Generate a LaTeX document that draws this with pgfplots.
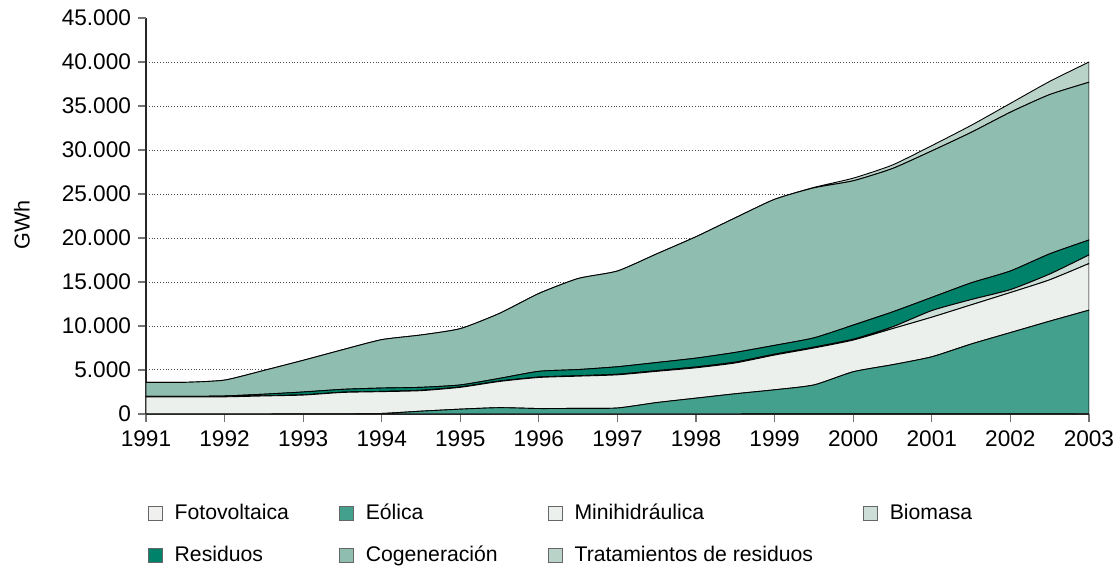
\documentclass[border=0pt]{standalone}
\usepackage{fontspec}
\setmainfont{Liberation Sans}
\usepackage{pgfplots}
\pgfplotsset{compat=1.18}
\usepackage{pgfplotstable}

\definecolor{cF}{HTML}{F0F1EF}
\definecolor{cE}{HTML}{42A08C}
\definecolor{cM}{HTML}{EBF0EC}
\definecolor{cB}{HTML}{CCDED7}
\definecolor{cR}{HTML}{00826A}
\definecolor{cC}{HTML}{8FBDB0}
\definecolor{cT}{HTML}{B9D3C9}

\pgfplotstableread{
year F E M B R C T
1991 5 0 1945 30 20 1600 0
1991.5 5 0 1945 30 20 1600 0
1992 5 0 1945 30 70 1800 0
1992.5 5 0 2045 30 170 2700 0
1993 5 5 2140 30 320 3600 0
1993.5 5 25 2420 30 320 4500 0
1994 5 55 2480 30 380 5500 0
1994.5 5 315 2330 50 330 5950 0
1995 5 545 2480 50 220 6400 0
1995.5 5 715 2980 50 300 7390 0
1996 5 615 3530 50 650 8850 0
1996.5 5 635 3660 50 700 10350 0
1997 5 675 3770 70 850 10880 0
1997.5 5 1295 3550 80 920 12350 0
1998 5 1795 3450 100 1000 13800 0
1998.5 5 2295 3500 100 1100 15300 0
1999 10 2740 3950 100 1000 16600 0
1999.5 10 3290 4200 100 1050 17050 50
2000 10 4790 3600 100 1600 16400 300
2000.5 10 5590 4100 200 1700 16300 400
2001 15 6485 4500 750 1500 16650 600
2001.5 15 7935 4450 600 1900 17100 800
2002 20 9230 4550 330 2120 18050 1000
2002.5 25 10525 4700 650 2300 18100 1500
2003 30 11770 5300 970 1700 17930 2300
}\data

\begin{document}
\begin{tikzpicture}
\useasboundingbox (-73pt,-79pt) rectangle (485.5pt,207pt);
\begin{axis}[
  scale only axis,
  width=471.5pt, height=198pt,
  xmin=1991, xmax=2003, ymin=0, ymax=45000,
  stack plots=y,
  axis x line*=bottom, axis y line*=left,
  axis line style={black!85, line width=0.8pt},
  xtick={1991,...,2003},
  ytick={0,5000,...,40000},
  extra y ticks={45000},
  extra y tick style={grid=none},
  ymajorgrids,
  grid style={densely dotted, black!70, line width=0.5pt},
  tick align=outside,
  major tick length=4pt,
  xtick style={black!55, line width=0.6pt},
  ytick style={black!55, line width=0.6pt},
  tick label style={font=\fontsize{11.3}{12}\selectfont, /pgf/number format/assume math mode=true},
  xticklabel style={/pgf/number format/1000 sep={}, yshift=-1pt},
  yticklabel style={/pgf/number format/1000 sep={.}},
  scaled y ticks=false,
  ylabel={GWh},
  ylabel style={font=\fontsize{10.8}{12}\selectfont, at={(axis description cs:-0.1315,0.477)}, anchor=center},
  legend columns=4,
  legend cell align=left,
  legend style={at={(axis description cs:0.002,-0.222)}, anchor=north west, draw=none, fill=none,
    inner sep=0pt, outer sep=0pt,
    font=\fontsize{10.6}{12}\selectfont,
    nodes={inner sep=1pt},
    row sep=9.8pt,
    /tikz/every odd column/.append style={column sep=5pt},
    /tikz/every even column/.append style={column sep=24pt}},
  legend image code/.code={\draw[#1, draw=black!60, line width=0.4pt] (0pt,-3.5pt) rectangle (7pt,3.5pt);},
  every axis plot/.append style={draw=black, line width=0.45pt, smooth, tension=0.35},
]
\addplot[fill=cF] table[x=year,y=F]{\data} \closedcycle;
\addlegendentry{Fotovoltaica}
\addplot[fill=cE] table[x=year,y=E]{\data} \closedcycle;
\addlegendentry{Eólica}
\addplot[fill=cM] table[x=year,y=M]{\data} \closedcycle;
\addlegendentry{Minihidráulica}
\addplot[fill=cB] table[x=year,y=B]{\data} \closedcycle;
\addlegendentry{Biomasa}
\addplot[fill=cR] table[x=year,y=R]{\data} \closedcycle;
\addlegendentry{Residuos}
\addplot[fill=cC] table[x=year,y=C]{\data} \closedcycle;
\addlegendentry{Cogeneración}
\addplot[fill=cT] table[x=year,y=T]{\data} \closedcycle;
\addlegendentry{Tratamientos de residuos}
\end{axis}
\end{tikzpicture}
\end{document}
